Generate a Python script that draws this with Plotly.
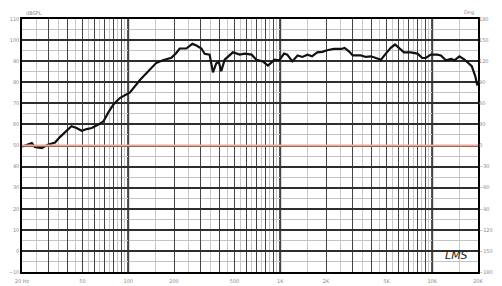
import plotly.graph_objects as go

# Frequency response (Hz, dB SPL)
freq = [20, 23.2, 24.3, 27.0, 29.6, 33.0, 35.5, 39.2, 42.3, 45.7, 49.4, 53.3, 57.5, 63.6,
        68.6, 74.0, 79.7, 88, 97.6, 102.6, 119.8, 135, 153, 169, 192, 207, 218, 241, 264,
        281, 303, 318, 343, 361, 379, 394, 409, 431, 488, 541, 585, 648, 697, 769, 829,
        870, 914, 984, 1060, 1112, 1200, 1300, 1400, 1510, 1620, 1750, 1890, 2035, 2250,
        2520, 2650, 2830, 3000, 3390, 3660, 3950, 4260, 4600, 4950, 5330, 5690, 6050,
        6520, 7220, 8000, 8600, 9060, 9790, 10800, 11400, 12300, 13300, 14000, 15100,
        16300, 17400, 18200, 19200, 19800]
spl = [49.5, 51.2, 49.3, 48.8, 50.4, 51.4, 54.0, 57.0, 59.1, 58.3, 57.0, 57.8, 58.3, 59.9,
       61.4, 65.7, 69.4, 72.5, 74.1, 75.2, 81.2, 85.2, 89.2, 90.4, 91.6, 93.9, 96.0, 96.0,
       98.2, 97.4, 96.0, 93.5, 93.1, 84.7, 88.9, 89.7, 85.2, 90.7, 94.2, 93.1, 93.6, 93.1,
       90.7, 89.9, 87.9, 89.2, 90.7, 90.4, 93.6, 93.1, 89.9, 92.7, 92.0, 93.1, 92.3, 94.2,
       94.4, 95.2, 95.8, 95.8, 96.3, 94.7, 92.7, 92.7, 92.0, 92.3, 91.5, 90.7, 93.6, 96.3,
       97.9, 96.3, 94.2, 94.2, 93.6, 91.5, 91.5, 93.1, 93.1, 92.7, 90.4, 91.1, 90.4, 92.3,
       90.7, 88.9, 87.6, 82.8, 78.4]

# Phase (deg)
phase_freq = [20, 20000]
phase_deg = [0, 0]

# Axis ticks
major_freqs = sorted(set([m * d for d in (10, 100, 1000) for m in range(2, 10)] + [100, 1000, 10000, 20000]))
minor_freqs = [m * d for d in (10, 100, 1000) for m in (1.5, 2.5, 3.5, 4.5, 5.5, 6.5, 7.5, 8.5, 9.5)]
minor_freqs = [f for f in minor_freqs if 20 < f < 20000] + [15000]
decade_freqs = [100, 1000, 10000]
label_map = {20: "20 Hz", 50: "50", 100: "100", 200: "200", 500: "500", 1000: "1K",
             2000: "2K", 5000: "5K", 10000: "10K", 20000: "20K"}
db_ticks = list(range(-10, 111, 10))
deg_ticks = list(range(-180, 181, 30))

fig = go.Figure()
fig.add_trace(go.Scatter(x=phase_freq, y=phase_deg, yaxis="y2", mode="lines",
                         line=dict(color="#f5a48e", width=2), hoverinfo="skip"))
fig.add_trace(go.Scatter(x=freq, y=spl, mode="lines",
                         line=dict(color="#111111", width=2.2)))

for f in decade_freqs:
    fig.add_shape(type="line", xref="x", yref="paper", x0=f, x1=f, y0=0, y1=1,
                  line=dict(color="#000000", width=1.8), layer="below")

tick_font = dict(family="DejaVu Sans", size=5, color="#8a8a8a")

fig.update_layout(
    width=502, height=286,
    margin=dict(l=22, r=24, t=19, b=14, autoexpand=False),
    paper_bgcolor="white", plot_bgcolor="white",
    showlegend=False,
    xaxis=dict(type="log", range=[1.30103, 4.30103], automargin=False,
               tickmode="array", tickvals=major_freqs,
               ticktext=[label_map.get(f, "") for f in major_freqs],
               showgrid=True, gridcolor="#444444", gridwidth=1.4,
               minor=dict(tickmode="array", tickvals=minor_freqs, showgrid=True,
                          gridcolor="#c8c8c8", gridwidth=1),
               showline=True, linecolor="#000000", linewidth=1.5, mirror=True,
               ticks="", tickfont=tick_font, zeroline=False, ticklabelstandoff=3),
    yaxis=dict(range=[-10, 110], tickmode="array", tickvals=db_ticks, automargin=False,
               showgrid=True, gridcolor="#2e2e2e", gridwidth=1.5,
               minor=dict(dtick=5, tick0=0, showgrid=True, gridcolor="#c4c4c4", gridwidth=1),
               showline=True, linecolor="#000000", linewidth=1.5, mirror=True,
               ticks="", tickfont=tick_font, zeroline=False),
    yaxis2=dict(range=[-180, 180], overlaying="y", side="right", automargin=False,
                tickmode="array", tickvals=deg_ticks, showgrid=False, zeroline=False,
                ticks="", tickfont=tick_font),
    annotations=[
        dict(text="dBSPL", xref="paper", yref="paper", x=0.0, y=1.0, xanchor="left",
             yanchor="bottom", showarrow=False, font=dict(family="DejaVu Sans", size=5, color="#8a8a8a"),
             yshift=1, xshift=2),
        dict(text="Deg", xref="paper", yref="paper", x=1.0, y=1.0, xanchor="right",
             yanchor="bottom", showarrow=False, font=dict(family="DejaVu Sans", size=5, color="#8a8a8a"),
             yshift=1, xshift=-2),
        dict(text="<i>LMS</i>", xref="paper", yref="paper", x=0.982, y=0.03, xanchor="right",
             yanchor="bottom", showarrow=False,
             font=dict(family="DejaVu Sans", size=11, color="#222222")),
    ],
)

fig.write_html("out.html")
